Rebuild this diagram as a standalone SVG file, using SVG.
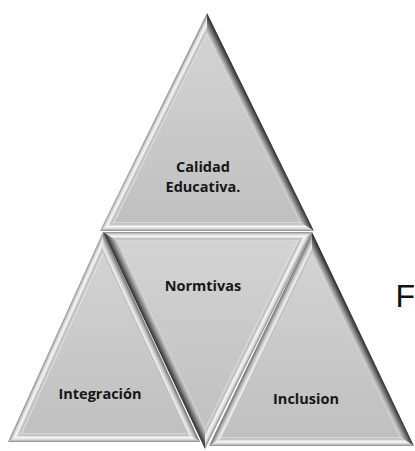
<svg xmlns="http://www.w3.org/2000/svg" width="415" height="451" viewBox="0 0 415 451">
<style>
.lbl{font-family:"Open Sans","Noto Sans",sans-serif;font-weight:700;font-size:14.5px;fill:#161616;text-anchor:middle}
.face{fill:url(#faceG)}
</style>
<defs>
<linearGradient id="faceG" x1="0" y1="0" x2="0" y2="1">
<stop offset="0" stop-color="#d3d3d3"/><stop offset="1" stop-color="#c0c0c0"/>
</linearGradient>
<linearGradient id="light">
<stop offset="0" stop-color="#8a8a8a"/><stop offset="0.25" stop-color="#d6d6d6"/><stop offset="0.5" stop-color="#f7f7f7"/><stop offset="0.78" stop-color="#b9b9b9"/><stop offset="1" stop-color="#e2e2e2"/>
</linearGradient>
<linearGradient id="dark">
<stop offset="0" stop-color="#2a2a2a"/><stop offset="0.35" stop-color="#666"/><stop offset="0.7" stop-color="#a6a6a6"/><stop offset="1" stop-color="#d0d0d0"/>
</linearGradient>
<linearGradient id="mid">
<stop offset="0" stop-color="#6e6e6e"/><stop offset="0.4" stop-color="#c4c4c4"/><stop offset="0.7" stop-color="#efefef"/><stop offset="1" stop-color="#a8a8a8"/>
</linearGradient>
<!-- top triangle facets -->
<linearGradient id="t1" href="#light" gradientUnits="userSpaceOnUse" x1="153.5" y1="122" x2="161.6" y2="126"/>
<linearGradient id="t2" href="#dark" gradientUnits="userSpaceOnUse" x1="260.5" y1="122" x2="252.4" y2="126"/>
<linearGradient id="t3" href="#light" gradientUnits="userSpaceOnUse" x1="207" y1="231" x2="207" y2="222"/>
<!-- left triangle -->
<linearGradient id="l1" href="#light" gradientUnits="userSpaceOnUse" x1="55.5" y1="337" x2="63.7" y2="340.7"/>
<linearGradient id="l2" href="#mid" gradientUnits="userSpaceOnUse" x1="151.5" y1="337" x2="143.3" y2="340.8"/>
<linearGradient id="l3" href="#light" gradientUnits="userSpaceOnUse" x1="104" y1="442" x2="104" y2="433"/>
<!-- inverted -->
<linearGradient id="m1" href="#light" gradientUnits="userSpaceOnUse" x1="207.5" y1="232" x2="207.5" y2="241"/>
<linearGradient id="m2" href="#dark" gradientUnits="userSpaceOnUse" x1="154" y1="340.5" x2="162.1" y2="336.7"/>
<linearGradient id="m3" href="#light" gradientUnits="userSpaceOnUse" x1="258.5" y1="340.5" x2="250.4" y2="336.5"/>
<!-- right triangle -->
<linearGradient id="r1" href="#mid" gradientUnits="userSpaceOnUse" x1="260.5" y1="339" x2="268.6" y2="342.9"/>
<linearGradient id="r2" href="#dark" gradientUnits="userSpaceOnUse" x1="363" y1="339" x2="354.9" y2="342.9"/>
<linearGradient id="r3" href="#light" gradientUnits="userSpaceOnUse" x1="311.5" y1="446" x2="311.5" y2="437"/>
</defs>
<rect width="415" height="451" fill="#fff"/>

<g id="calidad">
<polygon points="207,13 100,231 114.4,222 207,33.4" fill="url(#t1)"/>
<polygon points="207,13 314,231 299.6,222 207,33.4" fill="url(#t2)"/>
<polygon points="100,231 314,231 299.6,222 114.4,222" fill="url(#t3)"/>
<polygon class="face" points="207,33.4 114.4,222 299.6,222"/>
<text class="lbl" x="203" y="172">Calidad</text>
<text class="lbl" x="203" y="192">Educativa.</text>
</g>

<g id="integracion">
<polygon points="103,232 8,442 22,433 103.1,253.7" fill="url(#l1)"/>
<polygon points="103,232 200,442 185.9,433 103.1,253.7" fill="url(#l2)"/>
<polygon points="8,442 200,442 185.9,433 22,433" fill="url(#l3)"/>
<polygon class="face" points="103.1,253.7 22,433 185.9,433"/>
<text class="lbl" x="100" y="399">Integración</text>
</g>

<g id="normativas">
<polygon points="103,232 312,232 297.5,241 117.2,241" fill="url(#m1)"/>
<polygon points="103,232 205,449 205.2,428.3 117.2,241" fill="url(#m2)"/>
<polygon points="312,232 205,449 205.2,428.3 297.5,241" fill="url(#m3)"/>
<polygon class="face" points="117.2,241 297.5,241 205.2,428.3"/>
<text class="lbl" x="203" y="291">Normtivas</text>
</g>

<g id="inclusion">
<polygon points="312,232 209,446 223.3,437 312,252.8" fill="url(#r1)"/>
<polygon points="312,232 414,446 399.8,437 312,252.8" fill="url(#r2)"/>
<polygon points="209,446 414,446 399.8,437 223.3,437" fill="url(#r3)"/>
<polygon class="face" points="312,252.8 223.3,437 399.8,437"/>
<text class="lbl" x="306" y="404">Inclusion</text>
</g>

<text x="395.5" y="307" font-family="Liberation Sans, Arial, sans-serif" font-size="32" fill="#111">F</text>
</svg>
